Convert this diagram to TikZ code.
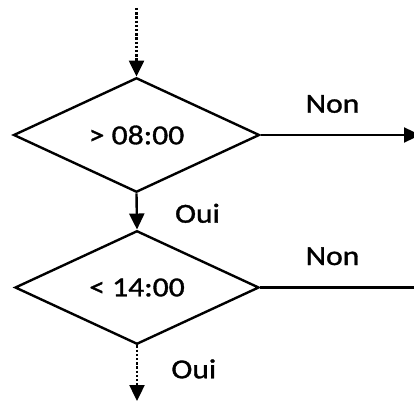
\documentclass[tikz,border=0pt]{standalone}
\usepackage{fontspec}
\setmainfont[FakeStretch=1.15,FakeBold=1.2]{Carlito}
\usetikzlibrary{shapes.geometric,arrows.meta}
\begin{document}
\begin{tikzpicture}[x=1pt,y=-1pt,
  every node/.style={font=\fontsize{27.5}{31}\selectfont, inner sep=0pt},
  decision/.style={draw, shape=diamond, line width=2.4pt},
  flow/.style={line width=2.4pt, -{Triangle[length=16pt,width=15pt]}},
  dotflow/.style={flow, dash pattern=on 2.4pt off 1.8pt},
  plain/.style={line width=2.4pt},
  lbl/.style={anchor=base}]
\useasboundingbox (0,0) rectangle (414,403);

\node[decision, minimum width=246pt, minimum height=110pt] (d1) at (136.5,135) {> 08:00};
\node[decision, minimum width=244pt, minimum height=105pt] (d2) at (137,287.5) {< 14:00};

\coordinate (top) at (136.5,8);
\coordinate (bot) at (137,401);
\coordinate (r1) at (420,135);
\coordinate (r2) at (420,287.5);

\draw[dotflow] (top) -- (d1.north);
\draw[flow] (d1.south) -- (d2.north);
\draw[dotflow] (d2.south) -- (bot);
\draw[flow] (d1.east) -- (r1);
\draw[plain] (d2.east) -- (r2);

\node[lbl] (non1) at (332.5,112.7) {Non};
\node[lbl] (oui1) at (197.5,222.7) {Oui};
\node[lbl] (non2) at (332.5,265) {Non};
\node[lbl] (oui2) at (193.8,378.3) {Oui};
\end{tikzpicture}
\end{document}
